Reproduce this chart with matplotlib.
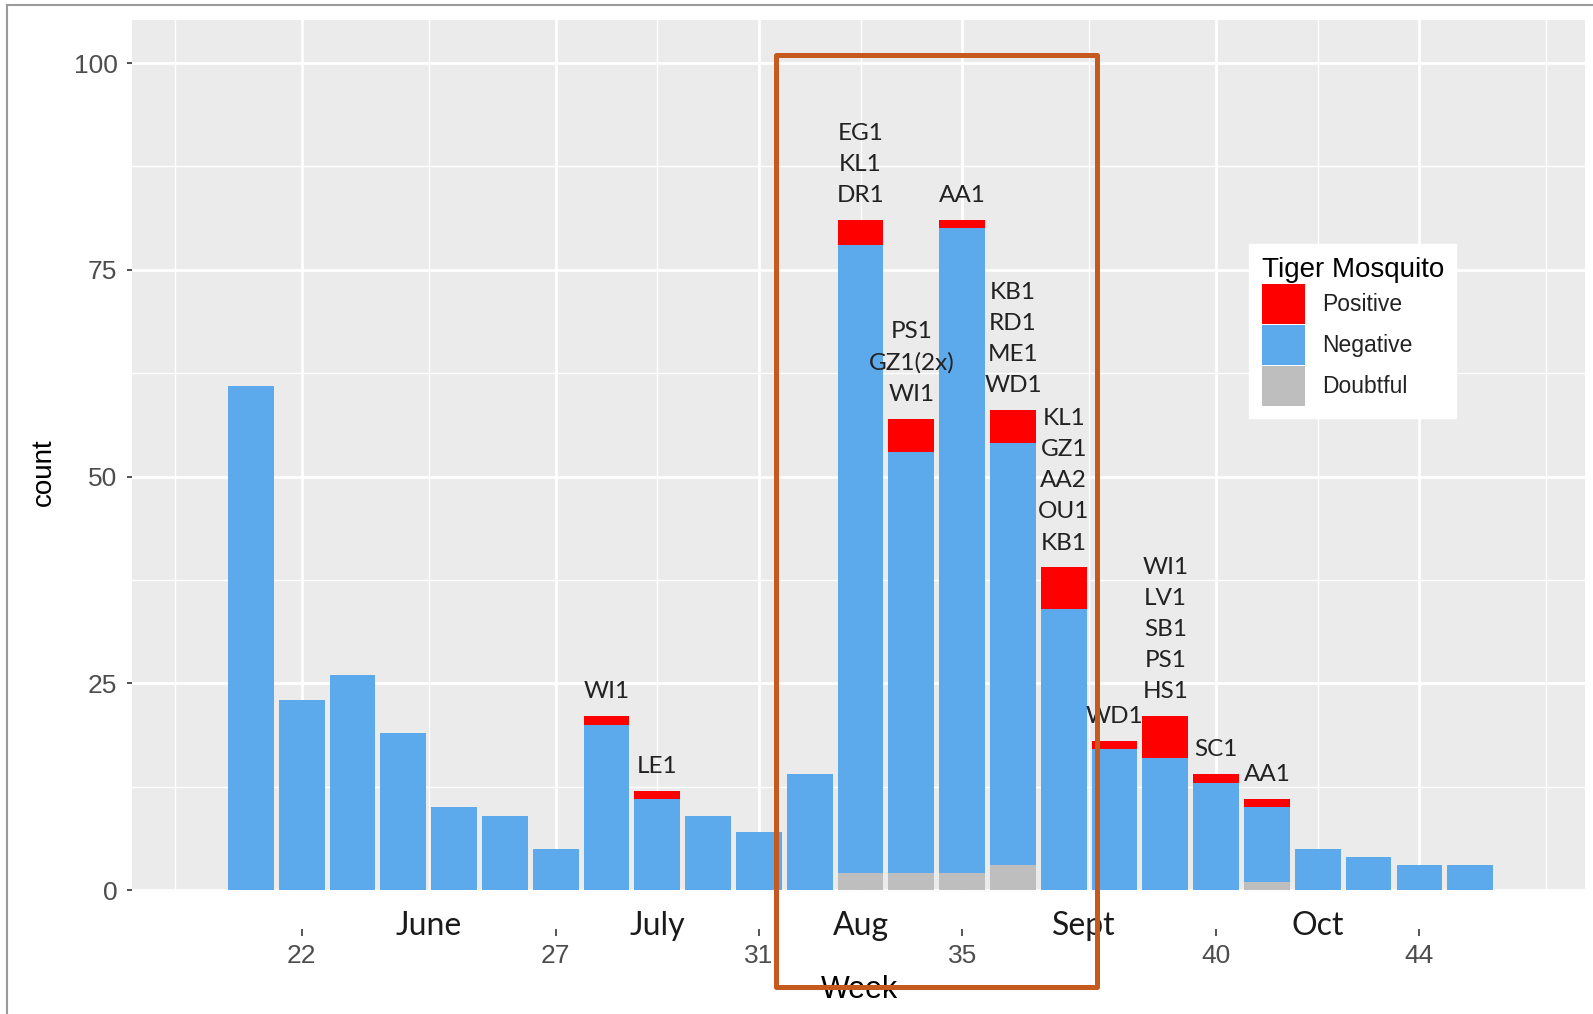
import numpy as np
import matplotlib.pyplot as plt
from matplotlib.patches import Patch, Rectangle
from matplotlib.lines import Line2D

# weekly counts per result
weeks = np.arange(21, 46)
positive = [0, 0, 0, 0, 0, 0, 0, 1, 1, 0, 0, 0, 3, 4, 1, 4, 5, 1, 5, 1, 1, 0, 0, 0, 0]
negative = [61, 23, 26, 19, 10, 9, 5, 20, 11, 9, 7, 14, 76, 51, 78, 51, 34, 17, 16, 13, 9, 5, 4, 3, 3]
doubtful = [0, 0, 0, 0, 0, 0, 0, 0, 0, 0, 0, 0, 2, 2, 2, 3, 0, 0, 0, 0, 1, 0, 0, 0, 0]

# site codes written above the bars with positives
label_weeks = [28, 29, 33, 34, 35, 36, 37, 38, 39, 40, 41]
site_labels = ["WI1", "LE1", "EG1\nKL1\nDR1", "PS1\nGZ1(2x)\nWI1", "AA1",
               "KB1\nRD1\nME1\nWD1", "KL1\nGZ1\nAA2\nOU1\nKB1", "WD1",
               "WI1\nLV1\nSB1\nPS1\nHS1", "SC1", "AA1"]

week_ticks = [22, 27, 31, 35, 40, 44]
months = ["June", "July", "Aug", "Sept", "Oct"]
month_pos = [24.5, 29, 33, 37.4, 42]

col_pos = "#FF0000"
col_neg = "#5CA9EB"
col_dbt = "#BEBEBE"

fig = plt.figure(figsize=(15.93, 10.14), dpi=100)
ax = fig.add_axes([132 / 1593, 1 - 892 / 1014, (1585 - 132) / 1593, (892 - 20) / 1014])
ax.set_facecolor("#EBEBEB")

pos = np.array(positive)
neg = np.array(negative)
dbt = np.array(doubtful)
ax.bar(weeks, dbt, width=0.9, color=col_dbt, zorder=2)
ax.bar(weeks, neg, width=0.9, bottom=dbt, color=col_neg, zorder=2)
ax.bar(weeks, pos, width=0.9, bottom=dbt + neg, color=col_pos, zorder=2)

total = dict(zip(weeks, pos + neg + dbt))
for w, s in zip(label_weeks, site_labels):
    ax.annotate(s, (w, total[w]), xytext=(0, 10), textcoords="offset points",
                ha="center", va="bottom", fontsize=17.5, family="Lato",
                color="#222222", linespacing=1.6, zorder=3)

ax.set_xlim(18.66, 47.26)
ax.set_ylim(-0.24, 105.2)

ax.set_xticks(week_ticks)
ax.set_xticklabels([str(w) for w in week_ticks])
minor_x = [19.5, 24.5, 29, 33, 37.5, 42, 46.5]
ax.set_xticks(minor_x, minor=True)
ax.set_yticks([0, 25, 50, 75, 100])
ax.set_yticks([12.5, 37.5, 62.5, 87.5], minor=True)
ax.grid(which="major", color="white", lw=2, zorder=0)
ax.grid(which="minor", color="white", lw=1, zorder=0)
ax.set_axisbelow(True)

for sp in ax.spines.values():
    sp.set_color("none")
ax.spines["bottom"].set_position(("outward", 26.6))
ax.tick_params(axis="x", which="major", length=5, width=1.4, color="#555555",
               pad=6, labelsize=19, labelcolor="#4D4D4D")
ax.tick_params(axis="y", which="major", length=3.5, width=1.2, color="#333333",
               pad=7, labelsize=19, labelcolor="#4D4D4D")
ax.tick_params(which="minor", length=0)
for lab in ax.get_xticklabels() + ax.get_yticklabels():
    lab.set_family("Liberation Sans")

for m, x in zip(months, month_pos):
    ax.text(x, -0.0493, m, transform=ax.get_xaxis_transform(), ha="center",
            va="baseline", fontsize=23, family="Lato", color="#1A1A1A")

handles = [Patch(facecolor=col_pos), Patch(facecolor=col_neg), Patch(facecolor=col_dbt)]
leg = ax.legend(handles, ["Positive", "Negative", "Doubtful"], title="Tiger Mosquito",
                loc="upper left", bbox_to_anchor=(0.7687, 0.7431), borderaxespad=0,
                fancybox=False, framealpha=1, edgecolor="white",
                prop={"family": "Liberation Sans", "size": 16.5},
                title_fontproperties={"family": "Liberation Sans", "size": 20},
                handlelength=1.9, handleheight=2.25, labelspacing=0.08,
                handletextpad=0.75, borderpad=0.55, alignment="left")
for t in leg.get_texts():
    t.set_color("#222222")

fig.text(44 / 1593, 1 - 472 / 1014, "count", rotation=90, ha="center", va="center",
         fontsize=20, family="Liberation Sans", color="black")
fig.text(859 / 1593, 1 - 990 / 1014, "Week", ha="center", va="center",
         fontsize=22, family="Liberation Sans", color="black")

# highlight box round Aug/Sept
fig.add_artist(Rectangle((776 / 1593, 1 - 987 / 1014), (1097 - 776) / 1593, (987 - 55) / 1014,
                         transform=fig.transFigure, fill=False, edgecolor="#C65A1E",
                         lw=3.6, joinstyle="round", zorder=10))

# image frame
fig.add_artist(Line2D([7 / 1593, 7 / 1593], [0, 1 - 5 / 1014], transform=fig.transFigure,
                      color="#9A9A9A", lw=1.5))
fig.add_artist(Line2D([7 / 1593, 1], [1 - 5 / 1014, 1 - 5 / 1014], transform=fig.transFigure,
                      color="#9A9A9A", lw=1.5))

fig.savefig("out.png", dpi=100, facecolor="white")
